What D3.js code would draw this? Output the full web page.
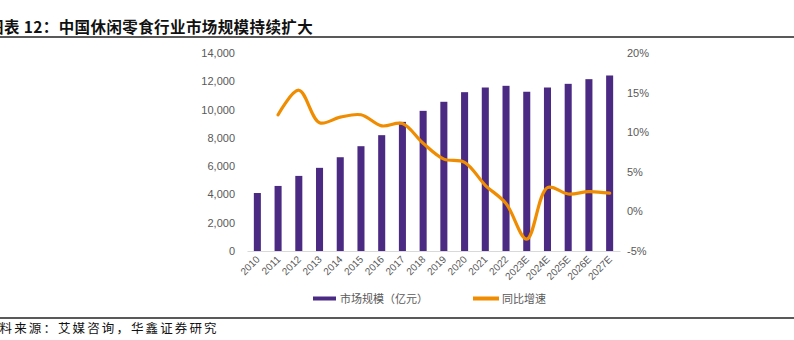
<!DOCTYPE html>
<html>
<head>
<meta charset="utf-8">
<script src="https://cdn.jsdelivr.net/npm/d3@7"></script>
<style>
  body { margin: 0; background: #fff; }
  svg { display: block; font-family: "Liberation Sans", Arial, sans-serif; }
</style>
</head>
<body>
<div id="chart"></div>
<script>
// 数据
const years = ['2010', '2011', '2012', '2013', '2014', '2015', '2016', '2017', '2018',
  '2019', '2020', '2021', '2022', '2023E', '2024E', '2025E', '2026E', '2027E'];
const marketSize = [4100, 4600, 5310, 5880, 6630, 7410, 8190, 9130, 9910,
  10550, 11230, 11560, 11680, 11260, 11560, 11820, 12150, 12410];
const growth = [null, 12.2, 15.3, 11.2, 11.9, 12.2, 10.8, 11.1, 8.6,
  6.6, 6.2, 3.3, 1.0, -3.5, 3.0, 2.2, 2.5, 2.3];
const leftTicks = [0, 2000, 4000, 6000, 8000, 10000, 12000, 14000];
const rightTicks = [-5, 0, 5, 10, 15, 20];
const legendNames = ['市场规模（亿元）', '同比增速'];

const W = 794, H = 340;
const plot = { left: 247, right: 620, top: 53, bottom: 251 };
const purple = '#4b2a84', orange = '#f08c00', grey = '#595959';

const svg = d3.select('#chart').append('svg')
  .attr('width', W).attr('height', H);

// 标题（左侧在原图中被裁切）
svg.append('text')
  .attr('x', -12).attr('y', 33)
  .attr('font-family', '"Noto Sans CJK SC", sans-serif')
  .attr('font-size', 15.5).attr('font-weight', 'bold')
  .attr('letter-spacing', 0.4)
  .attr('fill', '#111')
  .text('图表 12：中国休闲零食行业市场规模持续扩大');

svg.append('line')
  .attr('x1', 0).attr('x2', W).attr('y1', 37).attr('y2', 37)
  .attr('stroke', '#222').attr('stroke-width', 1.5);

// 比例尺
const x = d3.scaleBand()
  .domain(years)
  .range([plot.left, plot.right])
  .paddingInner(0.66).paddingOuter(0.33);

const yL = d3.scaleLinear().domain([0, 14000]).range([plot.bottom, plot.top]);
const yR = d3.scaleLinear().domain([-5, 20]).range([plot.bottom, plot.top]);

// 左轴
const axL = svg.append('g')
  .attr('transform', `translate(${plot.left - 10},0)`)
  .call(d3.axisLeft(yL).tickValues(leftTicks).tickSize(0).tickPadding(2)
    .tickFormat(d3.format(',')));
axL.select('.domain').remove();
axL.selectAll('text').attr('fill', grey).attr('font-size', 11);

// 右轴
const axR = svg.append('g')
  .attr('transform', `translate(${plot.right + 7},0)`)
  .call(d3.axisRight(yR).tickValues(rightTicks).tickSize(0).tickPadding(0)
    .tickFormat(d => d + '%'));
axR.select('.domain').remove();
axR.selectAll('text').attr('fill', grey).attr('font-size', 11);

// 柱子
svg.selectAll('.bar')
  .data(years)
  .enter()
  .append('rect')
  .attr('class', 'bar')
  .attr('x', (d) => x(d))
  .attr('width', x.bandwidth())
  .attr('y', (d, i) => yL(marketSize[i]))
  .attr('height', (d, i) => yL(0) - yL(marketSize[i]))
  .attr('fill', purple);

// x轴
const axB = svg.append('g')
  .attr('transform', `translate(0,${plot.bottom})`)
  .call(d3.axisBottom(x).tickSize(0).tickPadding(0));
axB.select('.domain').attr('stroke', '#d9d9d9').attr('stroke-width', 1.2);
axB.selectAll('text')
  .attr('fill', grey).attr('font-size', 10)
  .attr('text-anchor', 'end')
  .attr('dy', 0)
  .attr('transform', 'translate(3,9) rotate(-45)');

// 增速折线
const line = d3.line()
  .defined(d => d.v !== null)
  .x(d => x(d.year) + x.bandwidth() / 2)
  .y(d => yR(d.v))
  .curve(d3.curveCatmullRom.alpha(0.5));

svg.append('path')
  .datum(years.map((year, i) => ({ year, v: growth[i] })))
  .attr('d', line)
  .attr('fill', 'none')
  .attr('stroke', orange)
  .attr('stroke-width', 3.2)
  .attr('stroke-linecap', 'round');

// 图例
const legend = svg.append('g')
  .attr('font-family', '"Noto Sans CJK SC", sans-serif')
  .attr('font-size', 11).attr('fill', grey);
legend.append('rect').attr('x', 313).attr('y', 296.5).attr('width', 23).attr('height', 4).attr('fill', purple);
legend.append('text').attr('x', 340).attr('y', 302.5).text(legendNames[0]);
legend.append('rect').attr('x', 473).attr('y', 296.5).attr('width', 26).attr('height', 4).attr('fill', orange);
legend.append('text').attr('x', 502).attr('y', 302.5).text(legendNames[1]);

// 底部
svg.append('line')
  .attr('x1', 0).attr('x2', W).attr('y1', 318).attr('y2', 318)
  .attr('stroke', '#222').attr('stroke-width', 1.5);

svg.append('text')
  .attr('x', -15).attr('y', 333)
  .attr('font-family', '"Noto Sans CJK SC", sans-serif')
  .attr('font-size', 12.5).attr('letter-spacing', 2.1)
  .attr('fill', '#111')
  .text('资料来源：艾媒咨询，华鑫证券研究');
</script>
</body>
</html>
